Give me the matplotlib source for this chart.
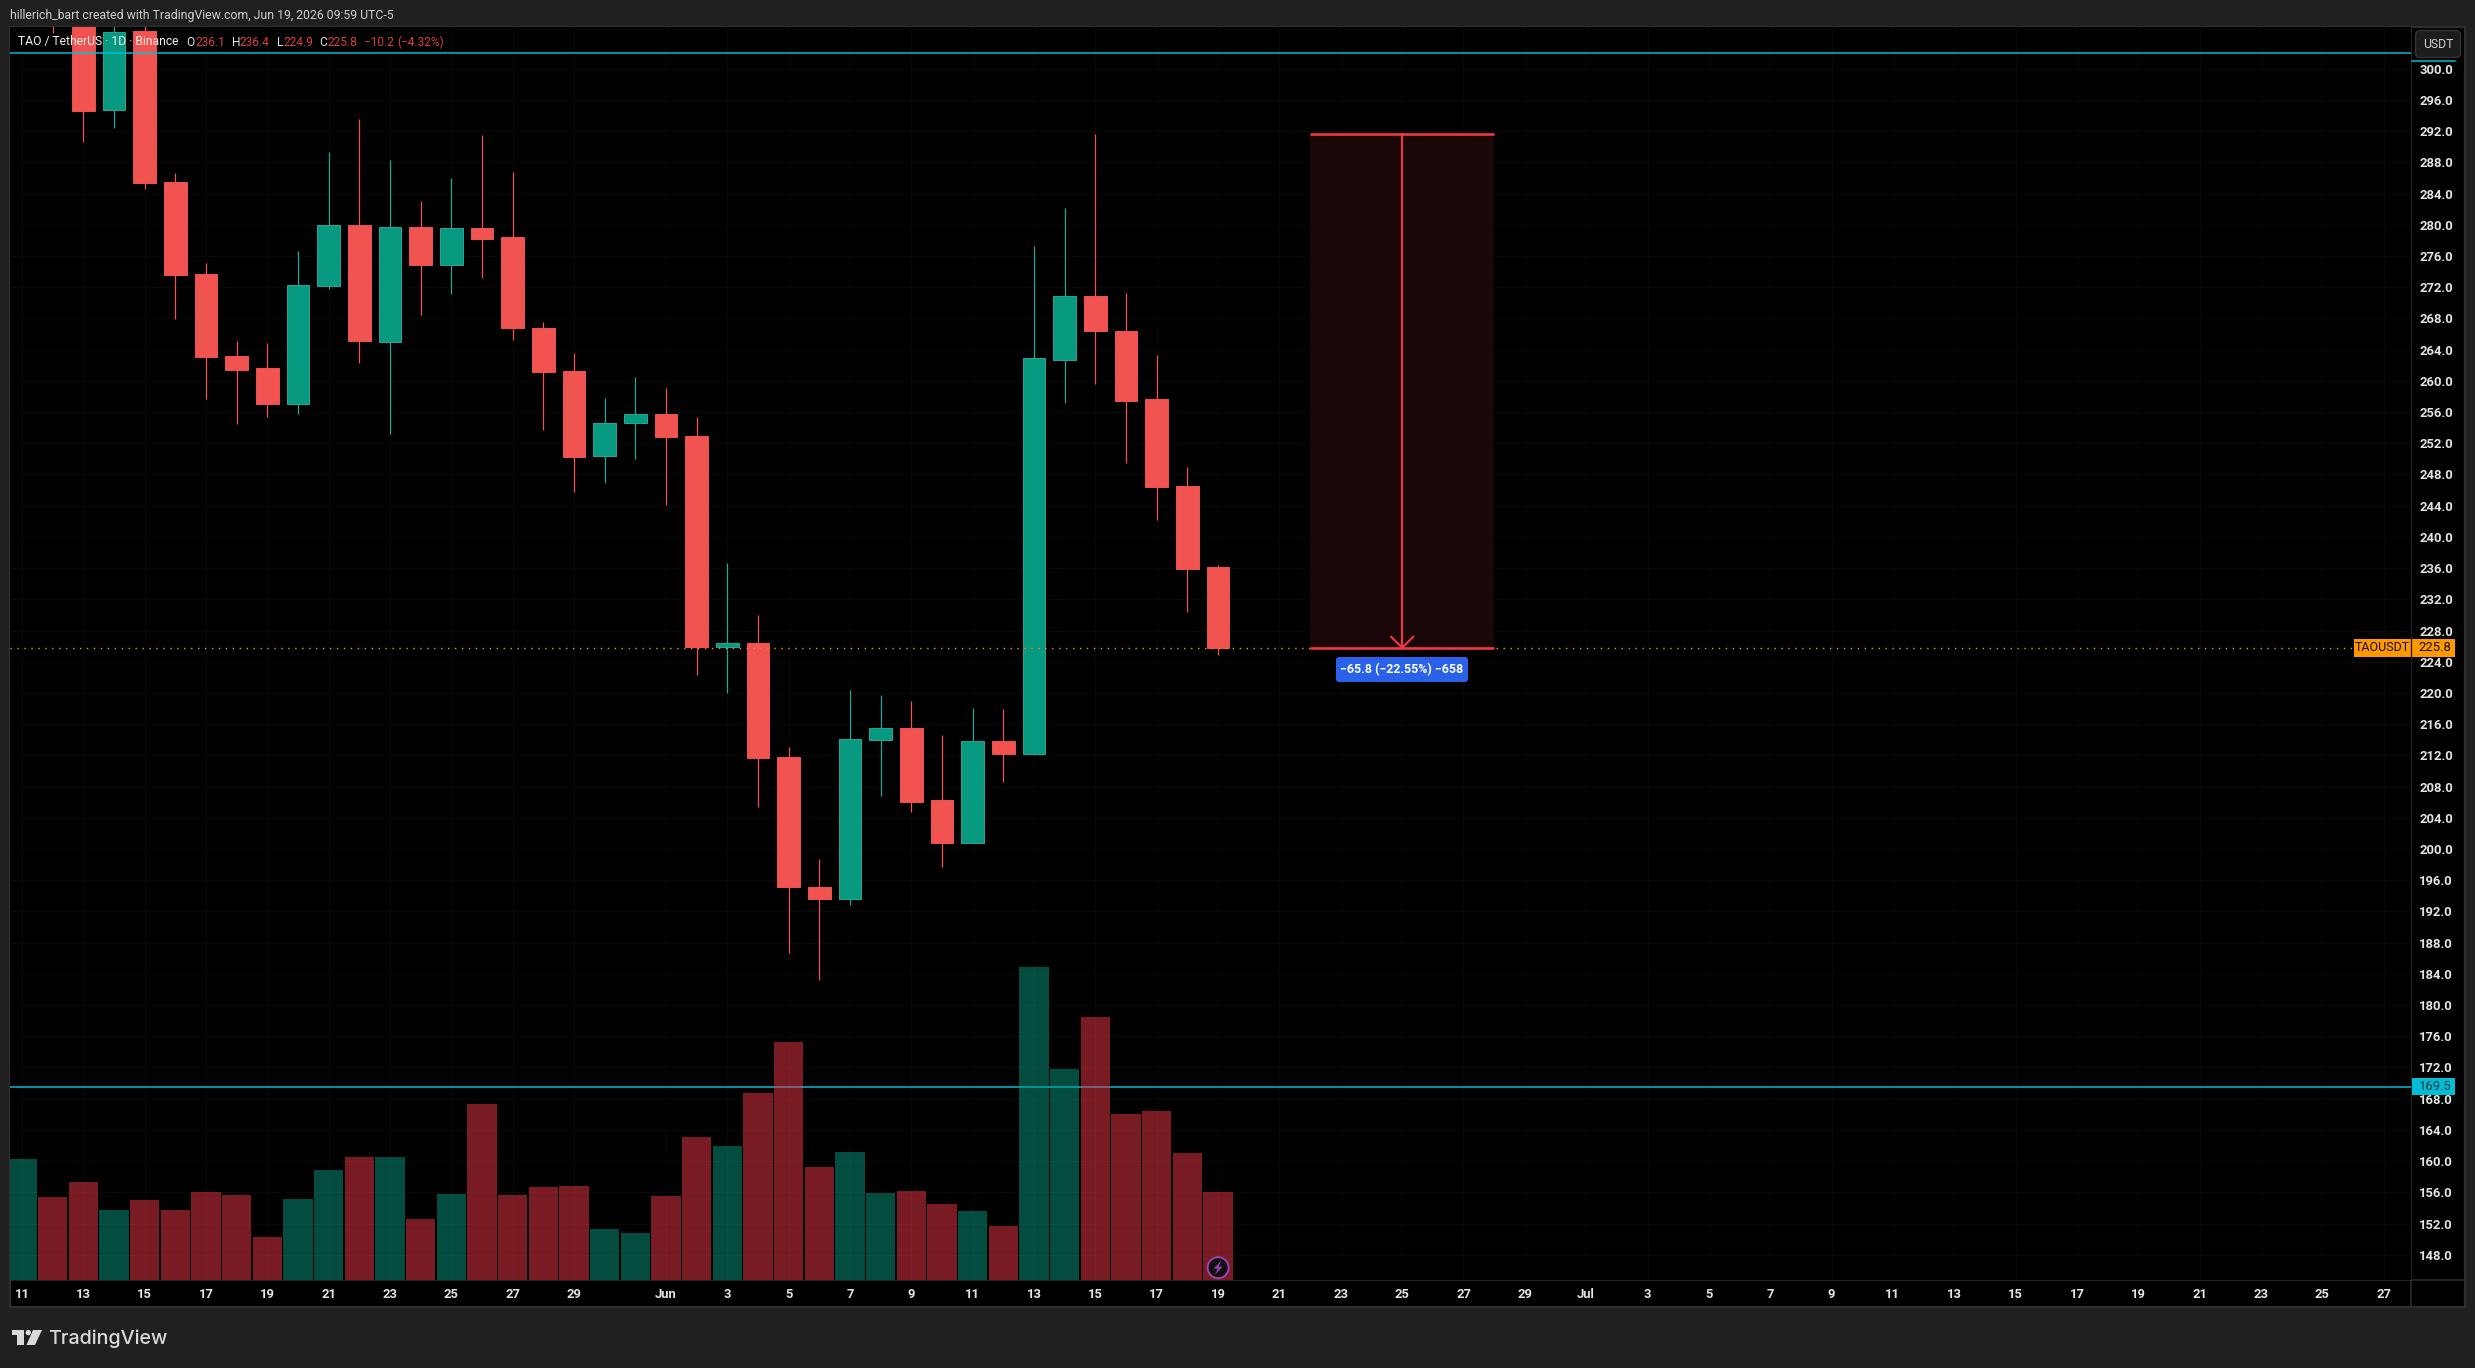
import matplotlib
matplotlib.use("Agg")
import matplotlib.pyplot as plt
from matplotlib.patches import Rectangle, FancyBboxPatch, Polygon, Circle

W, H = 2475, 1368

plt.rcParams['font.family'] = ['Roboto', 'DejaVu Sans']

# daily candles, first one is May 11, last one is Jun 19
opens = [310.0, 314.0, 306.0, 294.75, 304.83, 285.48, 273.69, 263.18, 261.64, 257.07,
         272.2, 279.97, 265.01, 279.71, 274.84, 279.58, 278.43, 266.77, 261.26, 250.4,
         254.63, 255.75, 252.93, 225.9, 226.4, 211.8, 195.1, 193.6, 214.0, 215.5,
         206.3, 200.8, 213.8, 212.2, 262.72, 270.87, 266.4, 257.67, 246.52, 236.1]
highs = [320.0, 316.0, 308.0, 306.0, 306.0, 286.63, 275.1, 265.1, 264.85, 276.64,
         289.33, 293.55, 288.3, 283.04, 286.0, 291.5, 286.76, 267.54, 263.57, 257.8,
         260.49, 259.08, 255.37, 236.65, 230.0, 213.1, 198.7, 220.4, 219.7, 219.0,
         214.6, 218.1, 218.0, 277.28, 282.16, 291.64, 271.25, 263.31, 248.96, 236.4]
lows = [308.0, 304.6, 290.6, 292.44, 284.62, 267.96, 257.71, 254.47, 255.4, 255.75,
        271.77, 262.32, 253.18, 268.44, 271.13, 273.18, 265.23, 253.7, 245.75, 246.9,
        249.98, 244.1, 222.3, 220.0, 205.4, 186.67, 183.2, 192.8, 206.8, 204.7,
        197.7, 200.8, 208.6, 212.05, 257.22, 259.6, 249.53, 242.22, 230.31, 224.9]
closes = [318.0, 309.0, 294.6, 304.66, 285.39, 273.56, 263.05, 261.39, 257.03, 272.28,
          279.97, 265.1, 279.71, 274.84, 279.58, 278.17, 266.77, 261.13, 250.24, 254.55,
          255.75, 252.8, 225.9, 226.4, 211.66, 195.1, 193.6, 214.1, 215.5, 206.0,
          200.8, 213.8, 212.2, 262.93, 270.87, 266.4, 257.42, 246.33, 235.88, 225.8]

volumes = [121, 83, 98, 70, 80, 70, 88, 85, 43, 81,
           110, 123, 123, 61, 86, 176, 85, 93, 94, 51,
           47, 84, 143, 134, 187, 238, 113, 128, 87, 89,
           76, 69, 54, 313, 211, 263, 166, 169, 127, 88]
volume_up = [1, 0, 0, 1, 0, 0, 0, 0, 0, 1,
             1, 0, 1, 0, 1, 0, 0, 0, 0, 1,
             1, 0, 0, 1, 0, 0, 0, 1, 1, 0,
             0, 1, 0, 1, 1, 0, 0, 0, 0, 0]

price_ticks = list(range(148, 301, 4))
date_positions = [0, 2, 4, 6, 8, 10, 12, 14, 16, 18, 21, 23, 25, 27, 29, 31, 33, 35, 37, 39,
                  41, 43, 45, 47, 49, 51, 53, 55, 57, 59, 61, 63, 65, 67, 69, 71, 73, 75, 77]
date_labels = ['11', '13', '15', '17', '19', '21', '23', '25', '27', '29', 'Jun', '3', '5', '7', '9',
               '11', '13', '15', '17', '19', '21', '23', '25', '27', '29', 'Jul', '3', '5', '7', '9',
               '11', '13', '15', '17', '19', '21', '23', '25', '27']

last_price = 225.8
alert_upper = 301.97
alert_lower = 169.5
drop_top = 291.6
drop_start = 42
drop_end = 48
drop_mid = 45

UP = '#089981'
UP_EDGE = '#26A69A'
DOWN = '#F05350'
VOL_DOWN = '#F23645'
TOOL_RED = '#F23645'
CYAN = '#00BCD4'
ORANGE = '#FF9800'
FRAME = '#202020'
LINE = '#2E2E2E'
TEXT = '#E4E4E4'
LEGEND_RED = '#D8403F'

# pane edges in pixels
left, right, top, bottom = 10, 2411, 27, 1280
outer_right, outer_bottom = 2465, 1307
px_day, x0 = 30.67, 22
px_price, y300 = 7.803, 68.7


def add_axes_px(x1, y1, x2, y2, **kw):
    return fig.add_axes([x1 / W, 1 - y2 / H, (x2 - x1) / W, (y2 - y1) / H], **kw)


fig = plt.figure(figsize=(W / 100, H / 100), dpi=100, facecolor=FRAME)

# background panes and separators
back = add_axes_px(0, 0, W, H, zorder=0)
back.set_xlim(0, W)
back.set_ylim(H, 0)
back.axis('off')
back.add_patch(Rectangle((left, top), outer_right - left, outer_bottom - top,
                         fc='black', ec=LINE, lw=1.6))
back.plot([right, right], [top, outer_bottom], color=LINE, lw=1.1)
back.plot([left, outer_right], [bottom, bottom], color=LINE, lw=1.1)

# price pane
ax = add_axes_px(left, top, right, bottom, zorder=1)
ax.set_facecolor('black')
for s in ax.spines.values():
    s.set_visible(False)
ax.set_xlim((left - x0) / px_day, (right - x0) / px_day)
ax.set_ylim(300 - (bottom - y300) / px_price, 300 + (y300 - top) / px_price)
ax.yaxis.tick_right()
ax.set_yticks(price_ticks)
ax.set_yticklabels([f'{p:.1f}' for p in price_ticks])
ax.set_xticks(date_positions)
ax.set_xticklabels(date_labels)
ax.tick_params(axis='y', length=0, pad=6, labelsize=9.4, labelcolor=TEXT)
ax.tick_params(axis='x', length=0, pad=5.5, labelsize=9.4, labelcolor=TEXT)
for lab in ax.get_xticklabels() + ax.get_yticklabels():
    lab.set_fontweight('bold')
ax.grid(True, color='#080808', lw=0.8)
ax.set_axisbelow(True)

# candles
for i in range(len(opens)):
    up = closes[i] >= opens[i]
    ax.vlines(i, lows[i], highs[i], color=UP_EDGE if up else DOWN, lw=0.9, zorder=3)
    ax.bar(i, abs(closes[i] - opens[i]), bottom=min(opens[i], closes[i]), width=0.74,
           color=UP if up else DOWN, edgecolor=UP_EDGE if up else DOWN, lw=0.7, zorder=4)

# horizontal alerts, the volume bars sit over the lower one
ax.axhline(alert_upper, color=CYAN, lw=1.1, zorder=5)
ax.axhline(alert_lower, color=CYAN, lw=1.1, zorder=5)
ax.plot([ax.get_xlim()[0], ax.get_xlim()[1]], [last_price, last_price], color=ORANGE,
        lw=1.0, ls=(0, (1, 4)), zorder=6)

# measured drop from the Jun 15 high to the last close
ax.add_patch(Rectangle((drop_start, last_price), drop_end - drop_start, drop_top - last_price,
                       fc='#1A0707', ec='none', zorder=2))
ax.plot([drop_start, drop_end], [drop_top, drop_top], color=TOOL_RED, lw=1.9, zorder=7,
        solid_capstyle='butt')
ax.plot([drop_start, drop_end], [last_price, last_price], color=TOOL_RED, lw=1.9, zorder=7,
        solid_capstyle='butt')
ax.plot([drop_mid, drop_mid], [drop_top, last_price], color=TOOL_RED, lw=1.5, zorder=7)
ax.plot([drop_mid - 0.36, drop_mid, drop_mid + 0.36],
        [last_price + 1.4, last_price, last_price + 1.4], color=TOOL_RED, lw=1.5, zorder=7)

# volume pane shares the x positions, one volume unit is one pixel of height
ax_vol = add_axes_px(left, top, right, bottom, zorder=2)
ax_vol.patch.set_visible(False)
ax_vol.axis('off')
ax_vol.set_xlim(ax.get_xlim())
ax_vol.set_ylim(0, bottom - top)
ax_vol.bar(range(len(volumes)), volumes, width=0.955,
           color=[UP if u else VOL_DOWN for u in volume_up], alpha=0.5, lw=0)

# labels and badges drawn over the panes
over = add_axes_px(0, 0, W, H, zorder=5)
over.patch.set_visible(False)
over.set_xlim(0, W)
over.set_ylim(H, 0)
over.axis('off')

over.text(10, 15, 'hillerich_bart created with TradingView.com, Jun 19, 2026 09:59 UTC-5',
          color='#CFCFCF', fontsize=8.8, va='center')

over.text(18, 42, 'TAO / TetherUS · 1D · Binance', color='#F0F0F0', fontsize=8.7,
          va='center')
legend_parts = [(186.5, 'O', TEXT), (196, '236.1', LEGEND_RED), (232, 'H', TEXT), (240, '236.4', LEGEND_RED),
                (277, 'L', TEXT), (283, '224.9', LEGEND_RED), (319, 'C', TEXT), (327, '225.8', LEGEND_RED),
                (364, '−10.2', LEGEND_RED), (397, '(−4.32%)', LEGEND_RED)]
for lx, s, c in legend_parts:
    over.text(lx, 42, s, color=c, fontsize=8.6, va='center')

# USDT unit button
over.plot([2412, 2455], [61.3, 61.3], color=CYAN, lw=1.1)
over.add_patch(FancyBboxPatch((2418, 33), 40, 22, boxstyle='round,pad=2.5,rounding_size=5',
                              fc='#1C1C1C', ec='#333333', lw=1.0))
over.text(2438, 44.5, 'USDT', color='#D0D0D0', fontsize=8.8, ha='center', va='center')

# last price tag
last_y = y300 + (300 - last_price) * px_price
over.add_patch(Rectangle((2354, last_y - 9), 101, 18, fc=ORANGE, ec='none'))
over.plot([right, right], [last_y - 9, last_y + 9], color='#222222', lw=1.0)
over.text(2382.5, last_y, 'TAOUSDT', color='#111111', fontsize=9, ha='center', va='center')
over.text(2435, last_y, f'{last_price:.1f}', color='#111111', fontsize=9.4, ha='center', va='center')

# alert tag
alert_y = y300 + (300 - alert_lower) * px_price
over.add_patch(Rectangle((2412, alert_y - 8.5), 43, 17, fc=CYAN, ec='none'))
over.text(2435, alert_y, f'{alert_lower:.1f}', color='#0A3A44', fontsize=9.4, ha='center', va='center')

# drop label
over.add_patch(FancyBboxPatch((1339, 660), 126, 19, boxstyle='round,pad=3,rounding_size=3',
                              fc='#2962E8', ec='none'))
over.text(1402, 669.5, '−65.8 (−22.55%) −658', color='white', fontsize=8.9, ha='center',
          va='center', fontweight='bold')

# lightning badge on the last volume bar
bx, by = x0 + 39 * px_day, 1267.7
over.add_patch(Circle((bx, by), 10.5, fc='#111111', ec='#9C42B5', lw=1.4))
over.add_patch(Polygon([(bx + 3, by - 7), (bx - 4.5, by + 1), (bx - 0.5, by + 1),
                        (bx - 3, by + 7), (bx + 4.5, by - 1), (bx + 0.5, by - 1)],
                       fc='#9C42B5', ec='none'))

# logo
logo = '#DADADA'
over.add_patch(Polygon([(12, 1330), (24.3, 1330), (24.3, 1345), (16.7, 1345), (16.7, 1335), (12, 1335)],
                       fc=logo, ec='none'))
over.add_patch(Circle((28.3, 1332.6), 2.7, fc=logo, ec='none'))
over.add_patch(Polygon([(33, 1330), (42, 1330), (35, 1345), (26.5, 1345)], fc=logo, ec='none'))
over.text(48.5, 1338.5, 'TradingView', color=logo, fontsize=14.2, va='center',
          family=['Inter', 'Roboto', 'DejaVu Sans'], fontweight='medium')

fig.savefig('out.png', dpi=100, facecolor=FRAME)
